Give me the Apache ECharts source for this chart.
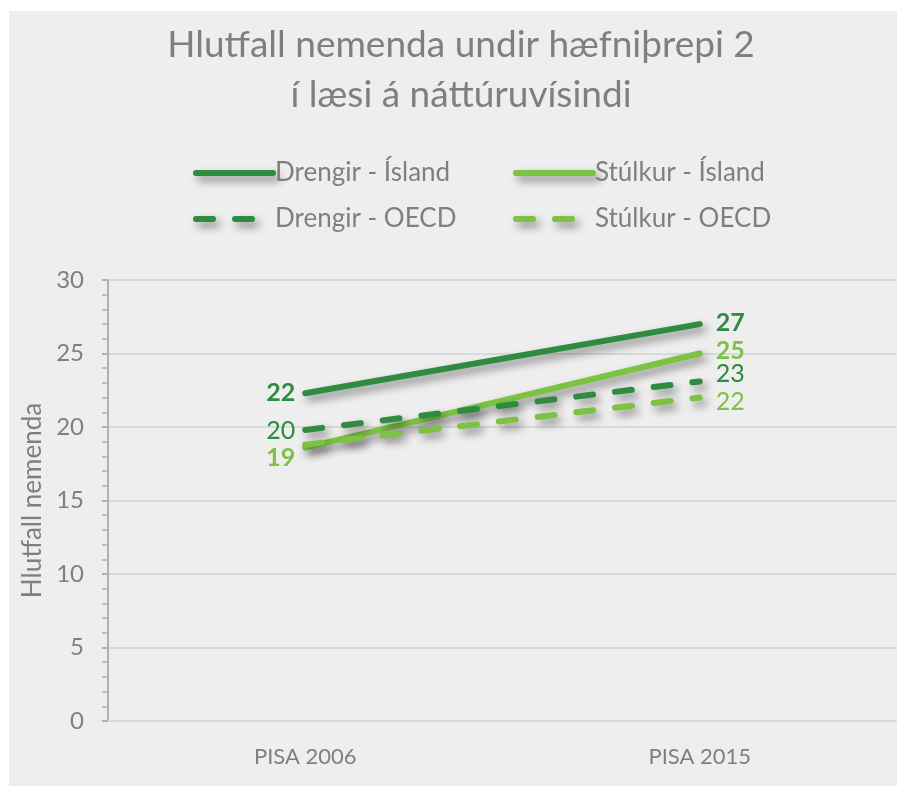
<!DOCTYPE html>
<html>
<head>
<meta charset="utf-8">
<script src="https://cdn.jsdelivr.net/npm/echarts@6/dist/echarts.min.js"></script>
<style>
  html, body { margin: 0; padding: 0; background: #fff; }
  #chart { width: 897px; height: 786px; }
</style>
</head>
<body>
<div id="chart"></div>
<script>
// gögn
const categories = ["PISA 2006", "PISA 2015"];
const yTicks = [0, 5, 10, 15, 20, 25, 30];
const drengirIsland = [22.3, 27.0];
const stulkurIsland = [18.6, 25.0];
const drengirOecd = [19.8, 23.1];
const stulkurOecd = [18.8, 22.0];

const dark = "#2e8b3f";
const light = "#7cc243";
const grey = "#7f7f7f";
const font = "Lato";
const shadow = {
  shadowColor: "rgba(0,0,0,0.45)",
  shadowBlur: 8,
  shadowOffsetX: 4,
  shadowOffsetY: 5,
};

// dy = lóðrétt hliðrun merkis, show = sýna merki [2006, 2015]
function points(values, bold, color, dy, show) {
  return values.map(function (v, i) {
    return {
      value: v,
      label: {
        show: show[i],
        position: i === 0 ? "left" : "right",
        distance: i === 0 ? 10 : 16,
        offset: [0, dy[i]],
        color: color,
        fontWeight: bold ? "bold" : "normal",
        fontSize: 25,
        fontFamily: font,
        formatter: function (p) { return Math.round(p.value); },
      },
    };
  });
}

function lineSeries(name, values, color, dashed, bold, dy, show) {
  return {
    name: name,
    type: "line",
    symbol: "circle",
    symbolSize: 0.01,
    data: points(values, bold, color, dy, show),
    lineStyle: Object.assign({
      color: color,
      width: 6,
      type: dashed ? [17, 22] : "solid",
      cap: "round",
    }, shadow),
    itemStyle: { color: color },
    emphasis: { disabled: true },
  };
}

function legendBox(items, left) {
  return {
    data: items,
    orient: "vertical",
    left: left,
    top: 160,
    itemWidth: 77,
    itemHeight: 26,
    itemGap: 20,
    padding: 0,
    itemStyle: { opacity: 0 },
    lineStyle: Object.assign({ width: 6, cap: "round" }, shadow),
    textStyle: { color: grey, fontSize: 26, fontFamily: font, padding: [0, 0, 0, -3] },
  };
}

let myChart = echarts.init(document.getElementById("chart"));
let option = {
  animation: false,
  graphic: [
    {
      type: "rect",
      z: -10,
      shape: { x: 9, y: 11, width: 888, height: 775 },
      style: { fill: "#eeeeee" },
    },
  ],
  title: {
    text: "Hlutfall nemenda undir hæfniþrepi 2\ní læsi á náttúruvísindi",
    left: 461,
    top: 20,
    textAlign: "center",
    padding: 0,
    textStyle: {
      color: grey,
      fontSize: 37,
      fontWeight: "normal",
      fontFamily: font,
      lineHeight: 50,
    },
  },
  legend: [
    legendBox(["Drengir - Ísland", "Drengir - OECD"], 193),
    legendBox(["Stúlkur - Ísland", "Stúlkur - OECD"], 513),
  ],
  grid: { left: 108, right: 0, top: 280, bottom: 65, containLabel: false },
  xAxis: {
    type: "category",
    data: categories,
    boundaryGap: true,
    axisLine: { lineStyle: { color: "#d9d9d9", width: 2 } },
    axisTick: { show: false },
    axisLabel: { color: grey, fontSize: 22, fontFamily: font, margin: 25 },
  },
  yAxis: {
    type: "value",
    min: yTicks[0],
    max: yTicks[yTicks.length - 1],
    interval: 5,
    name: "Hlutfall nemenda",
    nameLocation: "middle",
    nameGap: 60,
    nameTextStyle: { color: grey, fontSize: 26, fontFamily: font },
    axisLine: { show: true, lineStyle: { color: "#b0b0b0", width: 2 } },
    axisTick: { show: true, length: 6, lineStyle: { color: "#b0b0b0", width: 2 } },
    minorTick: { show: true, splitNumber: 5, length: 6, lineStyle: { color: "#b0b0b0", width: 1.5 } },
    axisLabel: { color: grey, fontSize: 24, fontFamily: font, margin: 24 },
    splitLine: { lineStyle: { color: "#d9d9d9", width: 2 } },
  },
  series: [
    lineSeries("Drengir - Ísland", drengirIsland, dark, false, true, [0, -1], [true, true]),
    lineSeries("Stúlkur - Ísland", stulkurIsland, light, false, true, [10, -3], [true, true]),
    lineSeries("Drengir - OECD", drengirOecd, dark, true, false, [1, -7], [true, true]),
    lineSeries("Stúlkur - OECD", stulkurOecd, light, true, false, [0, 4], [false, true]),
  ],
};
myChart.setOption(option);
</script>
</body>
</html>
